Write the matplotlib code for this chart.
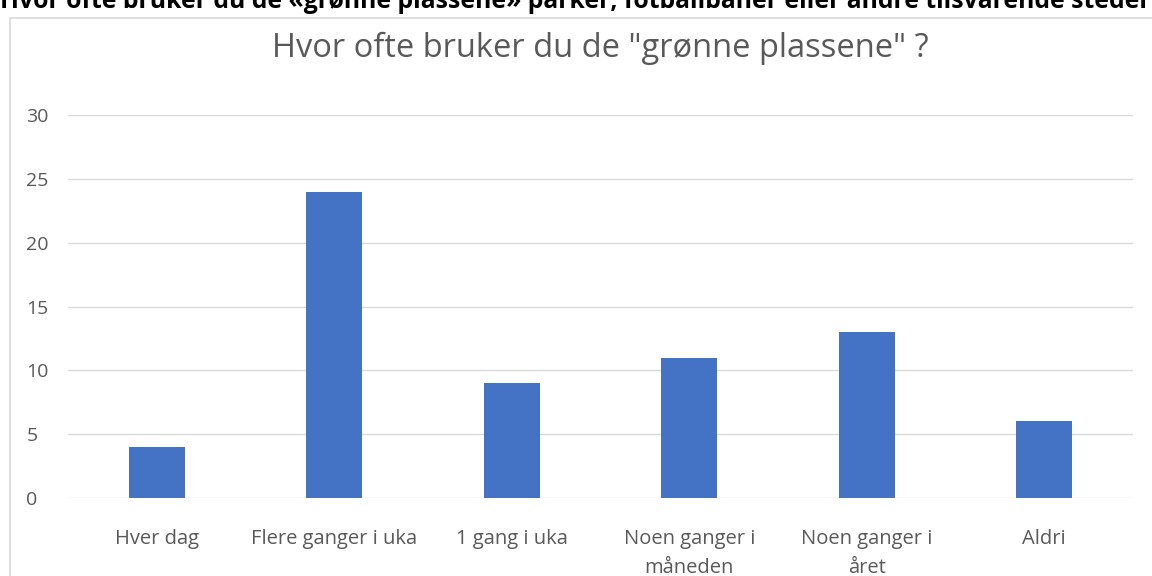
import numpy as np
import matplotlib.pyplot as plt
from matplotlib.patches import Rectangle

categories = ['Hver dag', 'Flere ganger i uka', '1 gang i uka',
              'Noen ganger i\nmåneden', 'Noen ganger i\nåret', 'Aldri']
values = [4, 24, 9, 11, 13, 6]
yticks = [0, 5, 10, 15, 20, 25, 30]

plt.rcParams['font.family'] = ['Open Sans', 'DejaVu Sans']

fig = plt.figure(figsize=(11.52, 5.76), dpi=100)
ax = fig.add_axes([68/1152, 1 - 498/576, (1133 - 68)/1152, (498 - 115)/576])

x = np.arange(len(categories))
ax.bar(x, values, width=0.316, color='#4472C4', zorder=3)

ax.set_xlim(-0.5, len(categories) - 0.5)
ax.set_ylim(0, 30)
ax.set_yticks(yticks)
ax.set_xticks(x)
ax.set_xticklabels(categories, fontsize=14.5, color='#595959', linespacing=1.6)
ax.tick_params(axis='y', labelsize=14, labelcolor='#595959', length=0)
ax.tick_params(axis='x', length=0, pad=22)
for lbl in ax.get_yticklabels():
    lbl.set_horizontalalignment('left')
ax.yaxis.set_tick_params(pad=30)
ax.grid(axis='y', color='#d9d9d9', linewidth=1, zorder=0)
for s in ax.spines.values():
    s.set_visible(False)

ax.set_title('Hvor ofte bruker du de "grønne plassene" ?', fontsize=23.5,
             color='#595959', pad=0, y=1 + (115 - 48)/383, va='center')

# chart border
fig.patches.append(Rectangle((10/1152, -0.01), 1.1, 1 - 18/576 + 0.01,
                             transform=fig.transFigure, fill=False,
                             edgecolor='#d9d9d9', linewidth=1.2))

# heading cut at the top of the image
fig.text(0, 1 - 8/576, 'Hvor ofte bruker du de «grønne plassene» parker, fotballbaner eller andre tilsvarende steder',
         fontsize=17.8, fontweight='bold', color='black', ha='left', va='baseline')

fig.savefig('out.png', dpi=100)
